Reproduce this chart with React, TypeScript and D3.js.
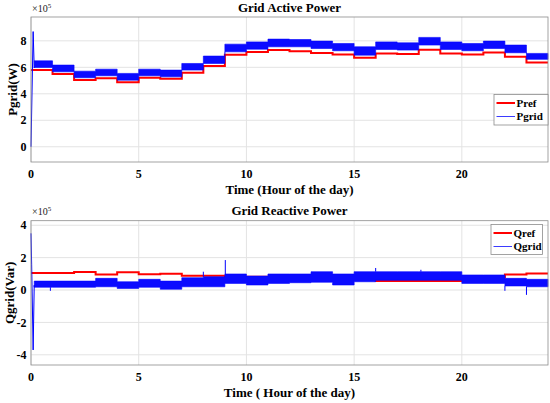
import * as d3 from "d3";
import { useEffect, useRef } from "react";

// hour index of each step (the first step starts after the start-up transient)
const stepHours = [0, 1, 2, 3, 4, 5, 6, 7, 8, 9, 10, 11, 12, 13, 14, 15, 16, 17, 18, 19, 20, 21, 22, 23];

// active power, x10^5 W
const prefValues = [5.79, 5.49, 5.05, 5.18, 4.87, 5.21, 5.13, 5.59, 6.1, 6.95, 7.15, 7.3, 7.22, 7.08, 6.96, 6.72, 7.05, 7.0, 7.33, 7.05, 6.97, 7.12, 6.79, 6.37];
const pgridLow = [5.99, 5.66, 5.21, 5.36, 5.03, 5.36, 5.28, 5.79, 6.29, 7.17, 7.37, 7.55, 7.55, 7.42, 7.25, 6.92, 7.35, 7.3, 7.68, 7.35, 7.25, 7.42, 7.1, 6.6];
const pgridHigh = [6.49, 6.17, 5.71, 5.86, 5.54, 5.86, 5.79, 6.29, 6.85, 7.75, 7.92, 8.13, 8.1, 7.98, 7.8, 7.55, 7.92, 7.85, 8.26, 7.92, 7.8, 7.98, 7.68, 7.05];
const pTransientT = [0, 0.1, 0.15];
const pTransientV = [0, 8.7, 5.95];
const pSpikeT: number[] = [];
const pSpikeV: number[] = [];

// reactive power, x10^5 Var
const qrefValues = [1.05, 1.05, 1.12, 0.96, 1.1, 0.97, 1.0, 0.88, 0.88, 0.82, 0.82, 0.78, 0.75, 0.72, 0.7, 0.62, 0.55, 0.55, 0.55, 0.55, 0.8, 0.8, 0.96, 1.02];
const qgridLow = [0.17, 0.17, 0.17, 0.2, 0.1, 0.17, 0.05, 0.2, 0.2, 0.41, 0.31, 0.41, 0.45, 0.48, 0.31, 0.51, 0.6, 0.6, 0.6, 0.6, 0.41, 0.41, 0.25, 0.2];
const qgridHigh = [0.55, 0.55, 0.55, 0.72, 0.51, 0.66, 0.55, 0.76, 0.82, 0.99, 0.86, 0.99, 0.99, 1.13, 0.99, 1.13, 1.13, 1.13, 1.13, 1.13, 0.93, 0.93, 0.72, 0.66];
const qTransientT = [0, 0.03, 0.1, 0.15];
const qTransientV = [3.5, 1.6, -3.7, 0.3];
const qSpikeT = [0.9, 8.0, 9.02, 16.0, 18.1, 22.0, 23.0];
const qSpikeV = [-0.05, 1.13, 1.85, 1.36, 1.25, -0.05, -0.3];

const xTicks = [0, 5, 10, 15, 20];
const pTicks = [0, 2, 4, 6, 8];
const qTicks = [-4, -2, 0, 2, 4];

const serif = "'Liberation Serif', 'Times New Roman', serif";

type Panel = {
  top: number;
  bottom: number;
  yDomain: [number, number];
  yTicks: number[];
  title: string;
  yLabel: string;
  yLabelX: number;
  xLabel: string;
  refValues: number[];
  low: number[];
  high: number[];
  transT: number[];
  transV: number[];
  spikeT: number[];
  spikeV: number[];
  names: [string, string];
  legend: { x: number; y: number; w: number; h: number };
};

const panels: Panel[] = [
  {
    top: 17,
    bottom: 162,
    yDomain: [-1.15, 9.8],
    yTicks: pTicks,
    title: "Grid Active Power",
    yLabel: "Pgrid(W)",
    yLabelX: 17,
    xLabel: "Time (Hour of the day)",
    refValues: prefValues,
    low: pgridLow,
    high: pgridHigh,
    transT: pTransientT,
    transV: pTransientV,
    spikeT: pSpikeT,
    spikeV: pSpikeV,
    names: ["Pref", "Pgrid"],
    legend: { x: 494, y: 94.5, w: 54, h: 30.5 },
  },
  {
    top: 220.7,
    bottom: 365,
    yDomain: [-4.63, 4.28],
    yTicks: qTicks,
    title: "Grid Reactive Power",
    yLabel: "Qgrid(Var)",
    yLabelX: 13.5,
    xLabel: "Time ( Hour of the day)",
    refValues: qrefValues,
    low: qgridLow,
    high: qgridHigh,
    transT: qTransientT,
    transV: qTransientV,
    spikeT: qSpikeT,
    spikeV: qSpikeV,
    names: ["Qref", "Qgrid"],
    legend: { x: 491, y: 224.5, w: 51.5, h: 30 },
  },
];

const left = 31;
const right = 548;

export default function App() {
  const svgRef = useRef(null);

  useEffect(() => {
    const svg = d3.select(svgRef.current);
    svg.selectAll("*").remove();

    const x = d3.scaleLinear().domain([0, 24]).range([left, right]);

    panels.forEach((p) => {
      const y = d3.scaleLinear().domain(p.yDomain).range([p.bottom, p.top]);
      const g = svg.append("g");

      // grid
      g.selectAll(".gx")
        .data(xTicks)
        .enter()
        .append("line")
        .attr("x1", (d) => x(d))
        .attr("x2", (d) => x(d))
        .attr("y1", p.top)
        .attr("y2", p.bottom)
        .attr("stroke", "#e3e3e3")
        .attr("stroke-width", 1);
      g.selectAll(".gy")
        .data(p.yTicks)
        .enter()
        .append("line")
        .attr("x1", left)
        .attr("x2", right)
        .attr("y1", (d) => y(d))
        .attr("y2", (d) => y(d))
        .attr("stroke", "#e3e3e3")
        .attr("stroke-width", 1);

      // reference step line
      const refPts = stepHours.map((h, i) => [h, p.refValues[i]] as [number, number]);
      refPts.push([24, p.refValues[p.refValues.length - 1]]);
      g.append("path")
        .attr(
          "d",
          d3
            .line<[number, number]>()
            .x((d) => x(d[0]))
            .y((d) => y(d[1]))
            .curve(d3.curveStepAfter)(refPts),
        )
        .attr("fill", "none")
        .attr("stroke", "#ff0000")
        .attr("stroke-width", 2);

      // measured signal: envelope band per hour
      const start = p.transT[p.transT.length - 1];
      const band = stepHours.map((h, i) => ({
        t: i === 0 ? start : h,
        lo: p.low[i],
        hi: p.high[i],
      }));
      band.push({ t: 24, lo: p.low[p.low.length - 1], hi: p.high[p.high.length - 1] });
      g.append("path")
        .attr(
          "d",
          d3
            .area<{ t: number; lo: number; hi: number }>()
            .x((d) => x(d.t))
            .y0((d) => y(d.lo))
            .y1((d) => y(d.hi))
            .curve(d3.curveStepAfter)(band),
        )
        .attr("fill", "#0b0bff")
        .attr("stroke", "#0000ff")
        .attr("stroke-width", 0.6);

      // start-up transient
      const trans = p.transT.map((t, i) => [t, p.transV[i]] as [number, number]);
      trans.push([start, p.low[0]]);
      g.append("path")
        .attr(
          "d",
          d3
            .line<[number, number]>()
            .x((d) => x(d[0]))
            .y((d) => y(d[1]))(trans),
        )
        .attr("fill", "none")
        .attr("stroke", "#0000ff")
        .attr("stroke-width", 1);

      // isolated spikes
      g.selectAll(".spike")
        .data(p.spikeT.map((t, i) => ({ t, v: p.spikeV[i] })))
        .enter()
        .append("line")
        .attr("x1", (d) => x(d.t))
        .attr("x2", (d) => x(d.t))
        .attr("y1", (d) => {
          const i = Math.min(23, Math.floor(d.t));
          return y(d.v > p.high[i] ? p.high[i] : p.low[i]);
        })
        .attr("y2", (d) => y(d.v))
        .attr("stroke", "#0000ff")
        .attr("stroke-width", 1);

      // axes box
      g.append("rect")
        .attr("x", left)
        .attr("y", p.top)
        .attr("width", right - left)
        .attr("height", p.bottom - p.top)
        .attr("fill", "none")
        .attr("stroke", "#8c8c8c")
        .attr("stroke-width", 0.8);

      // tick labels
      g.selectAll(".xt")
        .data(xTicks)
        .enter()
        .append("text")
        .attr("x", (d) => x(d))
        .attr("y", p.bottom + 15.5)
        .attr("text-anchor", "middle")
        .attr("font-family", serif)
        .attr("font-weight", "bold")
        .attr("font-size", 12)
        .text((d) => d);
      g.selectAll(".yt")
        .data(p.yTicks)
        .enter()
        .append("text")
        .attr("x", left - 4.5)
        .attr("y", (d) => y(d))
        .attr("dy", "0.35em")
        .attr("text-anchor", "end")
        .attr("font-family", serif)
        .attr("font-weight", "bold")
        .attr("font-size", 12)
        .text((d) => d);

      // exponent
      const ex = g
        .append("text")
        .attr("x", left + 1)
        .attr("y", p.top - 5.5)
        .attr("font-family", serif)
        .attr("font-size", 10)
        .attr("fill", "#222");
      ex.append("tspan").text("×10");
      ex.append("tspan").attr("dy", -4).attr("font-size", 7).text("5");

      // title and labels
      g.append("text")
        .attr("x", (left + right) / 2)
        .attr("y", p.top - 5.3)
        .attr("text-anchor", "middle")
        .attr("font-family", serif)
        .attr("font-weight", "bold")
        .attr("font-size", 13)
        .text(p.title);
      g.append("text")
        .attr("x", (left + right) / 2)
        .attr("y", p.bottom + 32.3)
        .attr("text-anchor", "middle")
        .attr("font-family", serif)
        .attr("font-weight", "bold")
        .attr("font-size", 13)
        .text(p.xLabel);
      g.append("text")
        .attr("transform", `translate(${p.yLabelX},${(p.top + p.bottom) / 2}) rotate(-90)`)
        .attr("text-anchor", "middle")
        .attr("font-family", serif)
        .attr("font-weight", "bold")
        .attr("font-size", 13)
        .text(p.yLabel);

      // legend
      const L = p.legend;
      const lg = g.append("g");
      lg.append("rect")
        .attr("x", L.x)
        .attr("y", L.y)
        .attr("width", L.w)
        .attr("height", L.h)
        .attr("fill", "#fff")
        .attr("stroke", "#8c8c8c")
        .attr("stroke-width", 0.8);
      const rows = [
        { name: p.names[0], color: "#ff0000", w: 2 },
        { name: p.names[1], color: "#3b3bff", w: 1 },
      ];
      rows.forEach((r, i) => {
        const cy = L.y + 8.5 + i * 13.5;
        lg.append("line")
          .attr("x1", L.x + 2.5)
          .attr("x2", L.x + 21)
          .attr("y1", cy)
          .attr("y2", cy)
          .attr("stroke", r.color)
          .attr("stroke-width", r.w);
        lg.append("text")
          .attr("x", L.x + 22.5)
          .attr("y", cy)
          .attr("dy", "0.35em")
          .attr("font-family", serif)
          .attr("font-weight", "bold")
          .attr("font-size", 11)
          .text(r.name);
      });
    });
  }, []);

  return (
    <svg
      ref={svgRef}
      width={550}
      height={403}
      style={{ position: "absolute", left: 0, top: 0, background: "#fff" }}
    ></svg>
  );
}
